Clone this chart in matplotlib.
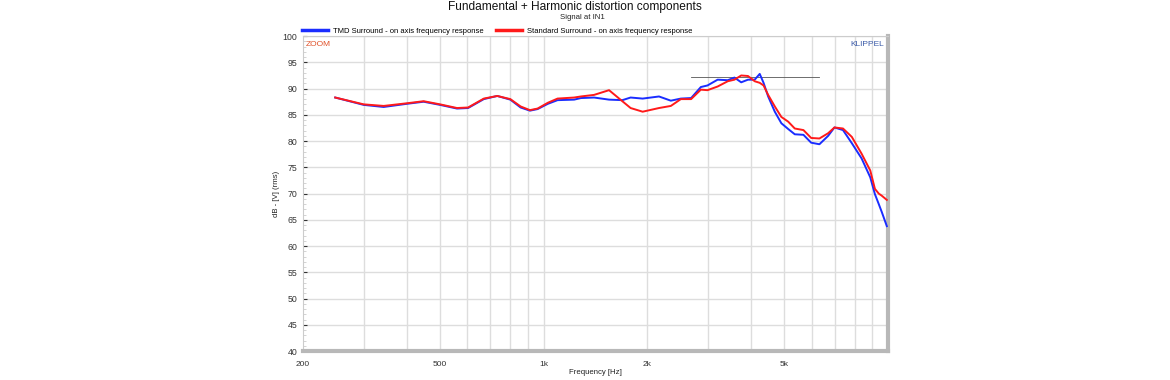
import numpy as np
import matplotlib
matplotlib.use('Agg')
import matplotlib.pyplot as plt
from matplotlib.ticker import FixedLocator, NullFormatter, MultipleLocator

# data
freq = [248, 300, 343, 400, 448, 500, 560, 603, 670, 733, 800, 857, 912, 960,
        1028, 1097, 1226, 1282, 1400, 1548, 1692, 1788, 1938, 2162, 2340, 2502,
        2680, 2860, 2990, 3200, 3424, 3580, 3746, 3920, 4100, 4240, 4350, 4486,
        4690, 4900, 5130, 5360, 5680, 5980, 6320, 6700, 6990, 7400, 7850, 8380,
        8880, 9160, 9400, 9590, 9920]
tmd_db = [88.3, 86.9, 86.5, 87.1, 87.5, 86.9, 86.2, 86.3, 88.0, 88.6, 87.9,
          86.4, 85.8, 86.1, 87.1, 87.8, 87.9, 88.2, 88.3, 87.9, 87.8, 88.3,
          88.1, 88.5, 87.7, 88.1, 88.2, 90.3, 90.6, 91.7, 91.6, 92.1, 91.2,
          91.7, 91.7, 92.8, 91.1, 88.5, 85.6, 83.4, 82.3, 81.3, 81.2, 79.7,
          79.4, 81.0, 82.6, 82.1, 79.6, 76.7, 73.1, 69.9, 68.0, 66.5, 63.8]
std_db = [88.3, 87.0, 86.7, 87.2, 87.6, 87.0, 86.3, 86.4, 88.1, 88.6, 88.0,
          86.6, 85.9, 86.2, 87.3, 88.1, 88.3, 88.5, 88.8, 89.7, 87.6, 86.3,
          85.6, 86.3, 86.7, 88.0, 88.0, 89.8, 89.7, 90.4, 91.4, 91.7, 92.5,
          92.4, 91.4, 91.1, 90.6, 88.8, 86.6, 84.6, 83.7, 82.4, 82.1, 80.6,
          80.5, 81.5, 82.6, 82.4, 80.8, 77.6, 74.4, 70.9, 70.0, 69.6, 68.8]
ref_freq = [2680, 6300]
ref_db = [92.3, 92.3]

grid_freqs = [300, 400, 500, 600, 700, 800, 900, 1000, 2000, 3000, 4000,
              5000, 6000, 7000, 8000, 9000]
tick_freqs = [200, 500, 1000, 2000, 5000]
tick_labels = ['200', '500', '1k', '2k', '5k']

plt.rcParams['font.family'] = ['Liberation Sans', 'DejaVu Sans']

fig = plt.figure(figsize=(11.7, 3.8), dpi=100)
ax = fig.add_axes([0.259, 0.076, 0.5, 0.829])

ax.set_xscale('log')
ax.set_xlim(200, 10000)
ax.set_ylim(40, 100)

for f in grid_freqs:
    ax.axvline(f, color='#dddddd', lw=1.0, zorder=0)
ax.yaxis.set_major_locator(MultipleLocator(5))
ax.yaxis.set_minor_locator(MultipleLocator(1))
ax.grid(axis='y', which='major', color='#dddddd', lw=1.0)

ax.xaxis.set_major_locator(FixedLocator(tick_freqs))
ax.xaxis.set_minor_locator(FixedLocator([]))
ax.set_xticklabels(tick_labels)
ax.xaxis.set_minor_formatter(NullFormatter())

ax.tick_params(axis='x', length=0, labelsize=6, pad=7, colors='#333333')
ax.tick_params(axis='y', which='major', length=3, direction='in',
               labelsize=6.3, colors='#333333', pad=4)
ax.tick_params(axis='y', which='minor', length=2, direction='in',
               color='#cccccc')

ax.plot(ref_freq, ref_db, color='#555555', lw=0.6, zorder=2)
ax.plot(freq, tmd_db, color='#1a2dff', lw=1.4, zorder=3,
        label='TMD Surround - on axis frequency response')
ax.plot(freq, std_db, color='#ff1a1a', lw=1.4, zorder=4,
        label='Standard Surround - on axis frequency response')

for side in ['left', 'top']:
    ax.spines[side].set_color('#cccccc')
    ax.spines[side].set_linewidth(0.8)
for side in ['bottom', 'right']:
    ax.spines[side].set_color('#b8b8b8')
    ax.spines[side].set_linewidth(3)

ax.text(0.004, 0.985, 'ZOOM', transform=ax.transAxes, color='#e0522a',
        fontsize=6, va='top', ha='left')
ax.text(0.993, 0.985, 'KLIPPEL', transform=ax.transAxes, color='#3a5aa8',
        fontsize=6, va='top', ha='right')

ax.set_xlabel('Frequency [Hz]', fontsize=5.6, labelpad=1, color='#222222')
ax.set_ylabel('dB - [V] (rms)', fontsize=5.6, labelpad=2, color='#222222')

fig.text(0.491, 0.982, 'Fundamental + Harmonic distortion components',
         ha='center', va='center', fontsize=8.6, color='#111111')
fig.text(0.498, 0.953, 'Signal at IN1', ha='center', va='center',
         fontsize=5.6, color='#222222')

leg = ax.legend(loc='lower left', bbox_to_anchor=(-0.002, 1.003), ncol=2,
                frameon=False, fontsize=5.5, handlelength=3.4,
                columnspacing=1.7, borderaxespad=0, handletextpad=0.65,
                borderpad=0)
for line in leg.get_lines():
    line.set_linewidth(2.5)

fig.savefig('out.png', dpi=100)
